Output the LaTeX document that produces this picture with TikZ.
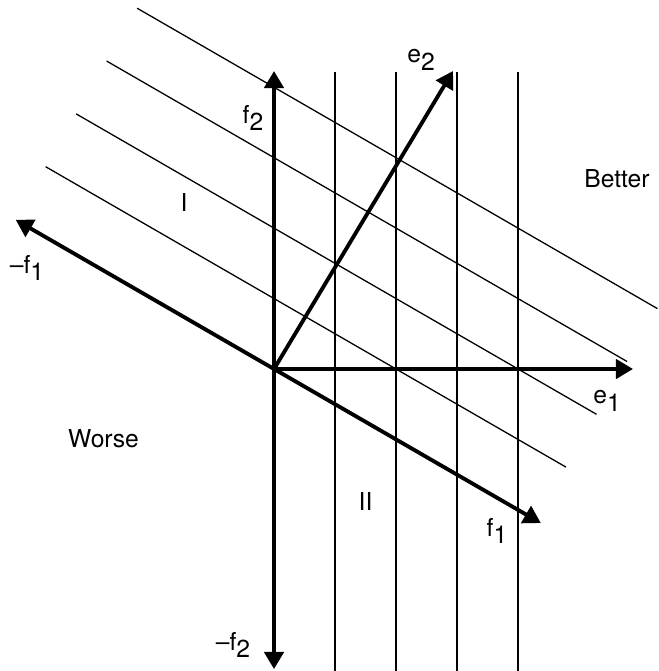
\documentclass[tikz,border=0pt]{standalone}
\usepackage{fontspec}
\setmainfont{TeX Gyre Heros}
\usetikzlibrary{arrows.meta}

\newcommand{\lo}[1]{\raisebox{-0.3em}{#1}}

\begin{document}
\begin{tikzpicture}[
    x=1cm,
    y=1cm,
    axis/.style={line width=1.8pt, -{Triangle[length=8pt,width=9pt]}},
    level/.style={line width=0.6pt},
    lbl/.style={font=\fontsize{11.5}{13}\selectfont, inner sep=0pt}
]
\useasboundingbox (-4.492,-4.951) rectangle (6.295,6.049);

\coordinate (O) at (0,0);
\coordinate (f1) at (-30:5.05);
\coordinate (mf1) at (150:4.89);
\coordinate (f2) at (0,4.885);
\coordinate (mf2) at (0,-4.92);
\coordinate (e1) at (5.885,0);
\coordinate (e2) at (59:5.7);

\foreach \k in {1,...,4} {
  \draw[level] (\k,4.87) -- (\k,-5.0);
  \draw[level,shift={(60:\k)}] (150:4.9) -- (-30:4.95);
}

\draw[axis] (O) -- (f2);
\draw[axis] (O) -- (mf2);
\draw[axis] (O) -- (f1);
\draw[axis] (O) -- (mf1);
\draw[axis] (O) -- (e1);
\draw[axis] (O) -- (e2);

\node[lbl] (lf2) at (-0.344,4.115) {f\lo{2}};
\node[lbl] (lmf2) at (-0.672,-4.525) {\textendash f\lo{2}};
\node[lbl] (lf1) at (3.656,-2.656) {f\lo{1}};
\node[lbl] (lmf1) at (-4.049,1.656) {\textendash f\lo{1}};
\node[lbl] (le1) at (5.459,-0.525) {e\lo{1}};
\node[lbl] (le2) at (2.41,5.066) {e\lo{2}};
\node[lbl] (better) at (5.623,3.115) {Better};
\node[lbl] (worse) at (-2.795,-1.148) {Worse};
\node[lbl] (regI) at (-1.475,2.721) {I};
\node[lbl] (regII) at (1.5,-2.18) {II};
\end{tikzpicture}
\end{document}
